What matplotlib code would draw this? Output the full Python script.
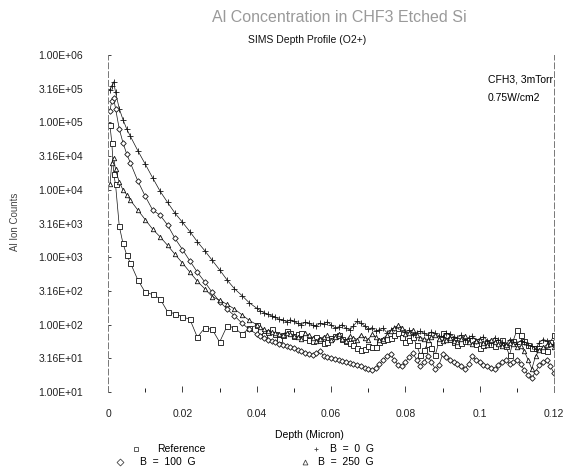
import matplotlib
matplotlib.use("Agg")
import matplotlib.pyplot as plt

plt.rcParams['font.family'] = ['Liberation Sans', 'DejaVu Sans']

# depth in micron, shared by all four profiles
depth = [0.0005, 0.001, 0.0015, 0.002, 0.003, 0.004, 0.005, 0.006,
         0.008, 0.010, 0.012, 0.014, 0.016, 0.018, 0.020, 0.022, 0.024,
         0.026, 0.028, 0.030, 0.032, 0.034, 0.036, 0.038,
         0.040, 0.041, 0.042, 0.043, 0.044, 0.045, 0.046, 0.047, 0.048, 0.049,
         0.050, 0.051, 0.052, 0.053, 0.054, 0.055, 0.056, 0.057, 0.058, 0.059,
         0.060, 0.061, 0.062, 0.063, 0.064, 0.065, 0.066, 0.067, 0.068, 0.069,
         0.070, 0.071, 0.072, 0.073, 0.074, 0.075, 0.076, 0.077, 0.078, 0.079,
         0.080, 0.081, 0.082, 0.083, 0.084, 0.085, 0.086, 0.087, 0.088, 0.089,
         0.090, 0.091, 0.092, 0.093, 0.094, 0.095, 0.096, 0.097, 0.098, 0.099,
         0.100, 0.101, 0.102, 0.103, 0.104, 0.105, 0.106, 0.107, 0.108, 0.109,
         0.110, 0.111, 0.112, 0.113, 0.114, 0.115, 0.116, 0.117, 0.118, 0.119,
         0.120]

reference = [9.0e4, 5.0e4, 1.7e4, 1.2e4, 2.9e3, 1.6e3, 1.08e3, 820,
             460, 300, 280, 240, 155, 145, 130, 120, 65,
             89, 85, 55, 95, 90, 72, 88,
             98, 80, 70, 78, 85, 72, 62, 70, 80, 74,
             68, 72, 75, 66, 60, 58, 66, 60, 53, 55,
             64, 68, 70, 62, 58, 54, 50, 45, 42, 44,
             48, 46, 47, 55, 60, 62, 63, 70, 75, 66,
             55, 60, 66, 50, 35, 42, 52, 45, 35, 55,
             75, 70, 62, 55, 50, 54, 58, 60, 60, 52,
             45, 50, 55, 52, 48, 55, 60, 48, 35, 58,
             83, 70, 58, 50, 45, 45, 45, 42, 40, 55,
             70]

b0 = [3.0e5, 3.5e5, 4.0e5, 2.8e5, 1.6e5, 1.1e5, 8.0e4, 6.2e4,
      3.8e4, 2.4e4, 1.5e4, 9.5e3, 6.5e3, 4.5e3, 3.3e3, 2.4e3, 1.7e3,
      1.25e3, 900, 650, 460, 340, 270, 210,
      175, 160, 150, 142, 135, 128, 120, 118, 110, 118,
      112, 104, 100, 108, 105, 98, 95, 104, 102, 110,
      98, 90, 92, 100, 88, 84, 95, 112, 105, 96,
      85, 90, 80, 84, 88, 76, 82, 90, 95, 86,
      78, 82, 72, 76, 80, 74, 70, 78, 74, 68,
      66, 74, 72, 66, 64, 70, 60, 64, 68, 58,
      62, 66, 58, 54, 64, 60, 55, 50, 60, 56,
      52, 58, 56, 50, 48, 44, 54, 60, 58, 52,
      50]

b100 = [1.5e5, 2.1e5, 2.3e5, 1.6e5, 8.0e4, 5.0e4, 3.4e4, 2.5e4,
        1.35e4, 8.0e3, 5.0e3, 4.2e3, 3.0e3, 1.9e3, 1.3e3, 880, 600,
        430, 300, 220, 170, 135, 105, 85,
        72, 68, 64, 60, 58, 55, 52, 50, 48, 46,
        45, 42, 40, 38, 36, 35, 38, 40, 34, 33,
        32, 31, 30, 29, 28, 27, 26, 25, 24, 23,
        22, 21, 23, 26, 30, 34, 36, 30, 25, 24,
        28, 33, 38, 30, 24, 28, 34, 28, 22, 25,
        36, 33, 30, 28, 26, 24, 22, 26, 34, 30,
        28, 25, 24, 23, 22, 25, 28, 30, 26, 28,
        30, 26, 21, 18, 16, 20, 25, 28, 30, 24,
        19]

b250 = [1.2e4, 2.5e4, 3.0e4, 2.0e4, 1.3e4, 1.0e4, 8.5e3, 7.0e3,
        5.0e3, 3.6e3, 2.6e3, 2.0e3, 1.5e3, 1.1e3, 820, 600, 440,
        340, 260, 230, 200, 170, 140, 115,
        100, 92, 85, 80, 78, 76, 72, 70, 75, 72,
        68, 66, 62, 74, 70, 64, 58, 62, 66, 70,
        60, 66, 72, 62, 58, 68, 64, 60, 70, 64,
        60, 72, 66, 60, 62, 70, 80, 88, 98, 90,
        72, 76, 83, 70, 64, 62, 60, 66, 70, 62,
        58, 60, 64, 58, 56, 62, 68, 56, 52, 58,
        60, 54, 50, 60, 56, 52, 48, 50, 54, 52,
        46, 48, 40, 30, 22, 34, 42, 46, 50, 52,
        46]

ytick_vals = [1e1, 3.16e1, 1e2, 3.16e2, 1e3, 3.16e3, 1e4, 3.16e4, 1e5, 3.16e5, 1e6]
ytick_labels = ["1.00E+01", "3.16E+01", "1.00E+02", "3.16E+02", "1.00E+03",
                "3.16E+03", "1.00E+04", "3.16E+04", "1.00E+05", "3.16E+05",
                "1.00E+06"]
xtick_vals = [0, 0.02, 0.04, 0.06, 0.08, 0.1, 0.12]
xtick_labels = ["0", "0.02", "0.04", "0.06", "0.08", "0.1", "0.12"]

series = [
    (reference, 's', 3.6, "Reference"),
    (b0, '+', 4.0, "B = 0 G"),
    (b100, 'D', 2.8, "B = 100 G"),
    (b250, '^', 3.2, "B = 250 G"),
]

fig = plt.figure(figsize=(5.66, 4.70), dpi=100)
ax = fig.add_axes([0.191, 0.166, 0.788, 0.717])

for vals, mk, ms, name in series:
    ax.plot(depth, vals, color='#111111', lw=0.5, marker=mk, ms=ms,
            mfc='white' if mk != '+' else '#111111', mec='#111111', mew=0.6,
            label=name)

ax.set_yscale('log')
ax.set_xlim(0, 0.12)
ax.set_ylim(1e1, 1e6)
ax.set_yticks(ytick_vals)
ax.set_yticklabels(ytick_labels)
ax.yaxis.set_minor_locator(matplotlib.ticker.NullLocator())
ax.set_xticks(xtick_vals)
ax.set_xticklabels(xtick_labels)
ax.set_xticks([0.01, 0.03, 0.05, 0.07, 0.09, 0.11], minor=True)
ax.tick_params(axis='both', labelsize=7.5, colors='#222222')
ax.tick_params(axis='x', direction='in', length=4, width=0.6, pad=12)
ax.tick_params(axis='x', which='minor', direction='in', length=3, width=0.6)
ax.tick_params(axis='y', direction='in', length=2, width=0.6, pad=18)

for side in ['top', 'bottom']:
    ax.spines[side].set_visible(False)
for side in ['left', 'right']:
    ax.spines[side].set_linestyle((0, (6, 3)))
    ax.spines[side].set_linewidth(0.7)
    ax.spines[side].set_color('#777777')

fig.text(0.60, 0.962, "Al Concentration in CHF3 Etched Si", ha='center',
         va='center', fontsize=11.5, color='#9a9a9a')
fig.text(0.543, 0.915, "SIMS Depth Profile (O2+)", ha='center', va='center',
         fontsize=7.5, color='#111111')
fig.text(0.862, 0.830, "CFH3, 3mTorr", ha='left', va='center', fontsize=7.5)
fig.text(0.862, 0.792, "0.75W/cm2", ha='left', va='center', fontsize=7.5)
fig.text(0.027, 0.528, "Al Ion Counts", rotation=90, ha='center', va='center',
         fontsize=7, color='#444444')
fig.text(0.546, 0.075, "Depth (Micron)", ha='center', va='center', fontsize=7.5)

# legend drawn by hand in two rows, as in the original plot
legend_pos = {
    "Reference": (0.240, 0.045, 0.277),
    "B = 0 G": (0.558, 0.045, 0.583),
    "B = 100 G": (0.212, 0.017, 0.247),
    "B = 250 G": (0.539, 0.017, 0.562),
}
for vals, mk, ms, name in series:
    mx, my, tx = legend_pos[name]
    ax.plot([mx], [my], marker=mk, ms=3.5, mfc='white', mec='#444444',
            mew=0.6, transform=fig.transFigure, clip_on=False)
    fig.text(tx, my, name.replace(" ", "  "), ha='left', va='center',
             fontsize=7.5)

fig.savefig("out.png", dpi=100)
